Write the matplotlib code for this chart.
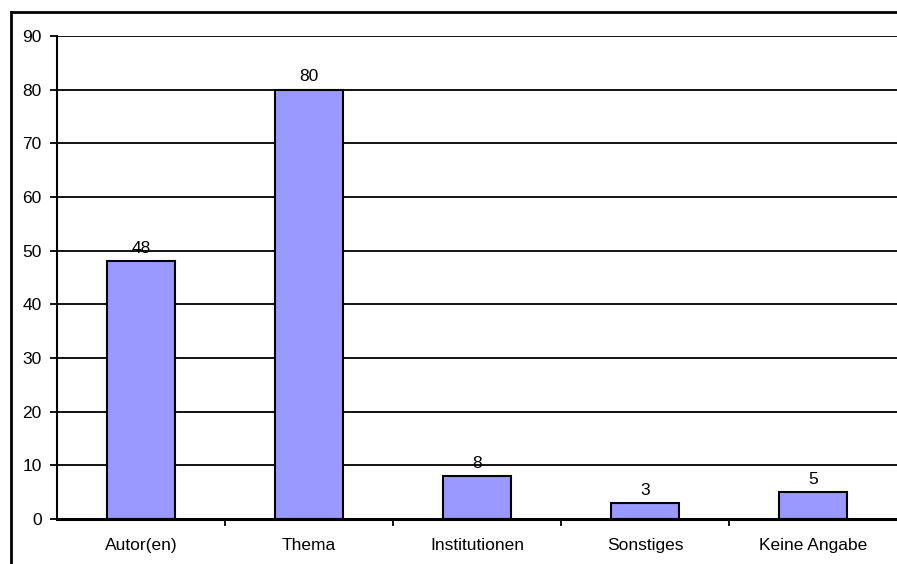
import matplotlib
matplotlib.use("Agg")
import matplotlib.pyplot as plt
from matplotlib.lines import Line2D
import numpy as np

plt.rcParams["font.family"] = ["Liberation Sans", "DejaVu Sans"]

categories = ["Autor(en)", "Thema", "Institutionen", "Sonstiges", "Keine Angabe"]
counts = [48, 80, 8, 3, 5]
yticks = list(range(0, 100, 10))

fig = plt.figure(figsize=(8.97, 5.64), dpi=100)
ax = fig.add_axes([0.0635, 0.0798, 0.9365, 0.8564])

# chart frame: only left and top edges fall inside the image
fx, fy = 0.0128, 0.9787
fig.add_artist(Line2D([fx, fx], [-0.1, fy], transform=fig.transFigure, color="black",
                      lw=2, solid_capstyle="projecting"))
fig.add_artist(Line2D([fx, 1.1], [fy, fy], transform=fig.transFigure, color="black",
                      lw=2, solid_capstyle="projecting"))

x = np.arange(len(categories))
ax.bar(x, counts, width=0.41, color="#9999ff", edgecolor="black", lw=1.5, zorder=3)
for xi, v in zip(x, counts):
    ax.text(xi, v + 1.0, str(v), ha="center", va="bottom", fontsize=12.5)

ax.set_xlim(-0.5, len(categories) - 0.5)
ax.set_ylim(0, 90)
ax.set_yticks(yticks)
ax.set_yticklabels([str(t) for t in yticks], fontsize=12.5)
for t in yticks[1:]:
    ax.axhline(t, color="black", lw=1.3, zorder=1)

ax.set_xticks(x)
ax.set_xticklabels(categories, fontsize=12.5)
ax.tick_params(axis="x", length=0, pad=14)
ax.set_xticks(np.arange(0.5, len(categories) - 0.5, 1), minor=True)
ax.tick_params(axis="x", which="minor", length=5, width=1.3, direction="out")
ax.tick_params(axis="y", length=5, width=1.3, direction="out", pad=6)

for s in ["top", "right"]:
    ax.spines[s].set_visible(False)
ax.spines["left"].set_linewidth(1.5)
ax.spines["bottom"].set_linewidth(2.2)
ax.spines["bottom"].set_zorder(4)

fig.savefig("out.png", dpi=100)
